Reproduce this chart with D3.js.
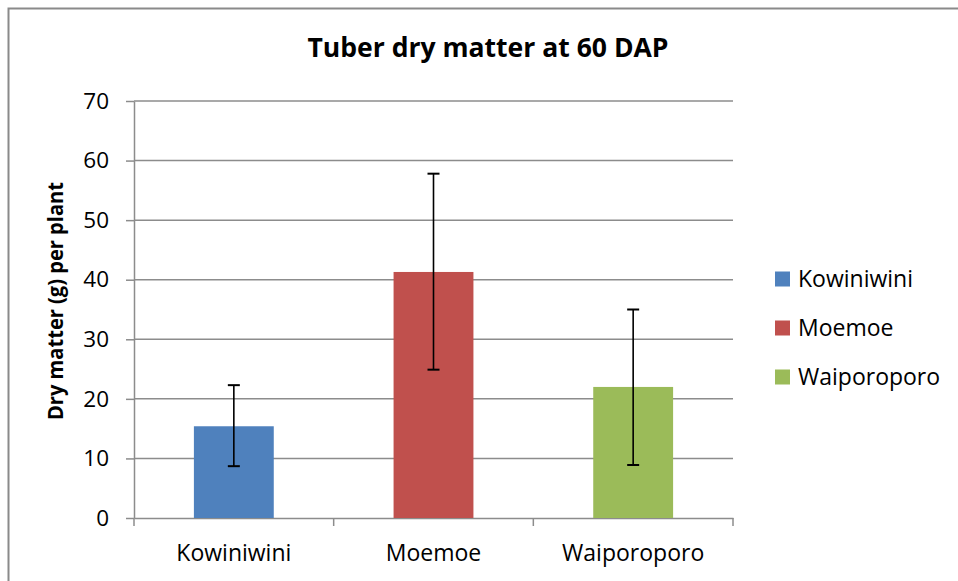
<!DOCTYPE html>
<html>
<head>
<meta charset="utf-8">
<script src="https://cdn.jsdelivr.net/npm/d3@7"></script>
<style>
  body { margin: 0; background: #fff; }
  svg { display: block; font-family: "Open Sans", "DejaVu Sans", sans-serif; }
</style>
</head>
<body>
<div id="chart"></div>
<script>
const categories = ["Kowiniwini", "Moemoe", "Waiporoporo"];
const values = [15.4, 41.3, 22.0];
const errLow = [8.7, 24.9, 8.9];
const errHigh = [22.3, 57.8, 35.0];
const colors = ["#4F81BD", "#C0504D", "#9BBB59"];
const yTicks = [0, 10, 20, 30, 40, 50, 60, 70];

const W = 958, H = 581;
const plot = { left: 134, right: 733, top: 101, bottom: 518 };

const svg = d3.select("#chart").append("svg")
	.attr("width", W)
	.attr("height", H);

// outer chart frame (runs off the right/bottom edge)
svg.append("rect")
	.attr("x", 8.5).attr("y", 8.5)
	.attr("width", 1000).attr("height", 700)
	.attr("fill", "none")
	.attr("stroke", "#8a8a8a")
	.attr("stroke-width", 2);

const x = d3.scaleBand().domain(categories).range([plot.left, plot.right]).padding(0);
const y = d3.scaleLinear().domain([0, 70]).range([plot.bottom, plot.top]);

// gridlines
svg.append("g").selectAll("line")
	.data(yTicks.filter(d => d > 0))
	.join("line")
	.attr("x1", plot.left).attr("x2", plot.right)
	.attr("y1", d => y(d)).attr("y2", d => y(d))
	.attr("stroke", "#8c8c8c")
	.attr("stroke-width", 1.5);

// y axis
const yAxis = svg.append("g")
	.attr("transform", `translate(${plot.left},0)`)
	.call(d3.axisLeft(y).tickValues(yTicks).tickSize(8).tickPadding(17).tickSizeOuter(0));
yAxis.select(".domain").attr("stroke", "#8c8c8c").attr("stroke-width", 1.5);
yAxis.selectAll(".tick line").attr("stroke", "#8c8c8c").attr("stroke-width", 1.5);
yAxis.selectAll(".tick text")
	.attr("font-size", 22.5)
	.attr("font-family", "Open Sans, sans-serif")
	.attr("fill", "#000");

// x axis
const xAxis = svg.append("g")
	.attr("transform", `translate(0,${plot.bottom})`)
	.call(d3.axisBottom(x).tickSize(0).tickPadding(27));
xAxis.select(".domain").attr("stroke", "#8c8c8c").attr("stroke-width", 1.5);
xAxis.selectAll(".tick text")
	.attr("font-size", 23)
	.attr("font-family", "Open Sans, sans-serif")
	.attr("fill", "#000");
// category boundary ticks
const edges = categories.map(c => x(c)).concat([x(categories[categories.length - 1]) + x.bandwidth()]);
xAxis.append("g").selectAll("line")
	.data(edges)
	.join("line")
	.attr("x1", d => d).attr("x2", d => d)
	.attr("y1", 0).attr("y2", 8)
	.attr("stroke", "#8c8c8c")
	.attr("stroke-width", 1.5);

// bars
const barW = x.bandwidth() * 0.4;
svg.append("g").selectAll("rect")
	.data(categories)
	.join("rect")
	.attr("x", d => x(d) + (x.bandwidth() - barW) / 2)
	.attr("y", (d, i) => y(values[i]))
	.attr("width", barW)
	.attr("height", (d, i) => y(0) - y(values[i]))
	.attr("fill", (d, i) => colors[i]);

// error bars
const eb = svg.append("g").selectAll("g")
	.data(categories)
	.join("g")
	.attr("transform", d => `translate(${x(d) + x.bandwidth() / 2},0)`);
eb.append("line")
	.attr("y1", (d, i) => y(errLow[i]))
	.attr("y2", (d, i) => y(errHigh[i]))
	.attr("stroke", "#000")
	.attr("stroke-width", 1.6);
eb.selectAll(".cap")
	.data((d, i) => [errLow[i], errHigh[i]])
	.join("line")
	.attr("class", "cap")
	.attr("x1", -6).attr("x2", 6)
	.attr("y1", d => y(d)).attr("y2", d => y(d))
	.attr("stroke", "#000")
	.attr("stroke-width", 2);

// title
svg.append("text")
	.attr("x", 488)
	.attr("y", 57)
	.attr("text-anchor", "middle")
	.attr("font-size", 26)
	.attr("font-weight", "bold")
	.attr("textLength", 361)
	.attr("lengthAdjust", "spacingAndGlyphs")
	.text("Tuber dry matter at 60 DAP");

// y axis title
svg.append("text")
	.attr("transform", "translate(63,301) rotate(-90)")
	.attr("text-anchor", "middle")
	.attr("font-size", 21)
	.attr("font-weight", "bold")
	.attr("textLength", 238)
	.attr("lengthAdjust", "spacingAndGlyphs")
	.text("Dry matter (g) per plant");

// legend
const legend = svg.append("g").selectAll("g")
	.data(categories)
	.join("g")
	.attr("transform", (d, i) => `translate(775,${279 + i * 49})`);
legend.append("rect")
	.attr("x", 0).attr("y", -7.5)
	.attr("width", 15).attr("height", 15)
	.attr("fill", (d, i) => colors[i]);
legend.append("text")
	.attr("x", 23)
	.attr("dy", "0.35em")
	.attr("font-size", 23)
	.text(d => d);
</script>
</body>
</html>
